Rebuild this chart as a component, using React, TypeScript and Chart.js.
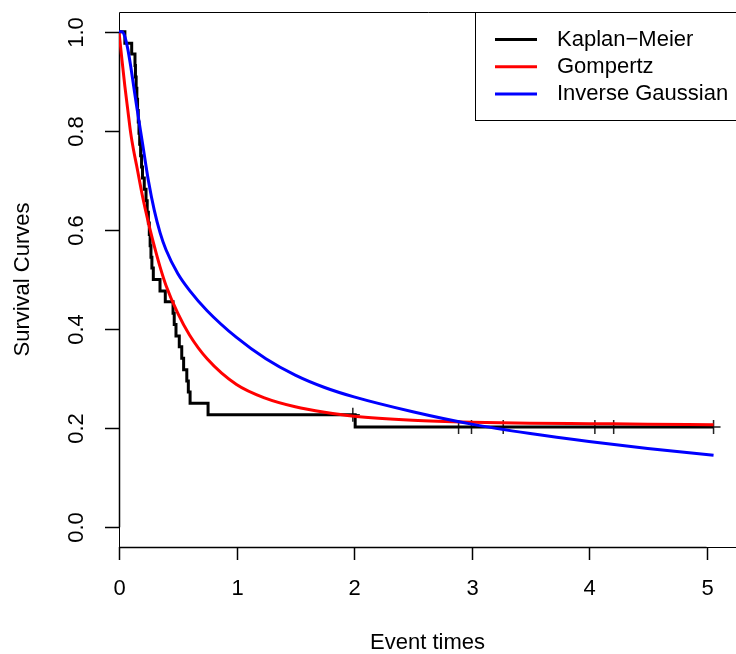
import React, { useEffect, useRef } from "react";
import { Chart, registerables } from "chart.js";

Chart.register(...registerables);

// Kaplan–Meier step data (event times and survival after each event)
const kmTimes = [
  0, 0.05, 0.108, 0.136, 0.14, 0.146, 0.152, 0.158, 0.164, 0.17, 0.176, 0.184,
  0.192, 0.2, 0.215, 0.23, 0.24, 0.25, 0.258, 0.265, 0.272, 0.28, 0.292, 0.349,
  0.394, 0.46, 0.47, 0.485, 0.513, 0.534, 0.55, 0.577, 0.59, 0.605, 0.758, 2.01,
  5.06,
];
const kmSurv = [
  1, 0.977, 0.955, 0.932, 0.909, 0.886, 0.864, 0.841, 0.818, 0.795, 0.773, 0.75,
  0.727, 0.705, 0.682, 0.659, 0.636, 0.614, 0.591, 0.568, 0.545, 0.523, 0.5,
  0.477, 0.455, 0.432, 0.409, 0.386, 0.364, 0.341, 0.318, 0.295, 0.273, 0.25,
  0.227, 0.202, 0.202,
];
// censored observations
const censorTimes = [1.99, 2.89, 3.0, 3.27, 4.05, 4.21, 5.06];
const censorSurv = [0.227, 0.202, 0.202, 0.202, 0.202, 0.202, 0.202];

// fitted parametric curves
const curveTimes = [
  0, 0.025, 0.05, 0.075, 0.1, 0.125, 0.15, 0.2, 0.25, 0.3, 0.35, 0.4, 0.5, 0.6,
  0.75, 1.0, 1.25, 1.5, 1.75, 2.0, 2.5, 3.0, 3.5, 4.0, 4.5, 5.06,
];
const gompertz = [
  1, 0.944, 0.89, 0.842, 0.795, 0.76, 0.73, 0.668, 0.615, 0.568, 0.525, 0.488,
  0.432, 0.388, 0.34, 0.288, 0.26, 0.243, 0.232, 0.224, 0.216, 0.212, 0.21,
  0.209, 0.208, 0.207,
];
const invGaussian = [
  1, 1.0, 0.99, 0.965, 0.93, 0.89, 0.85, 0.775, 0.7, 0.64, 0.594, 0.56, 0.512,
  0.478, 0.437, 0.383, 0.34, 0.307, 0.282, 0.263, 0.233, 0.208, 0.189, 0.173,
  0.159, 0.145,
];

const xTicks = [0, 1, 2, 3, 4, 5];
const xTickLabels = ["0", "1", "2", "3", "4", "5"];
const yTicks = [0, 0.2, 0.4, 0.6, 0.8, 1.0];
const yTickLabels = ["0.0", "0.2", "0.4", "0.6", "0.8", "1.0"];
const legendLabels = ["Kaplan\u2212Meier", "Gompertz", "Inverse Gaussian"];
const legendColors = ["#000000", "#FF0000", "#0000FF"];
const xTitle = "Event times";
const yTitle = "Survival Curves";

const FONT = '22px "Liberation Sans", Arial, sans-serif';

const rAxesPlugin = {
  id: "rAxes",
  beforeDatasetsDraw(chart: any) {
    const { ctx, chartArea } = chart;
    const xs = chart.scales.x;
    const ys = chart.scales.y;
    const { left, top, right, bottom } = chartArea;
    ctx.save();
    ctx.strokeStyle = "#000";
    ctx.lineWidth = 1;
    ctx.beginPath();
    ctx.moveTo(right + 2, top + 0.5);
    ctx.lineTo(left + 0.5, top + 0.5);
    ctx.lineTo(left + 0.5, bottom + 0.5);
    ctx.lineTo(right + 2, bottom + 0.5);
    ctx.stroke();

    // x axis
    ctx.lineWidth = 1.5;
    const x0 = xs.getPixelForValue(xTicks[0]);
    const x1 = xs.getPixelForValue(xTicks[xTicks.length - 1]);
    ctx.beginPath();
    ctx.moveTo(x0, bottom + 0.5);
    ctx.lineTo(x1, bottom + 0.5);
    ctx.stroke();
    ctx.fillStyle = "#000";
    ctx.font = FONT;
    ctx.textAlign = "center";
    ctx.textBaseline = "middle";
    xTicks.forEach((v, i) => {
      const px = Math.round(xs.getPixelForValue(v)) + 0.5;
      ctx.beginPath();
      ctx.moveTo(px, bottom);
      ctx.lineTo(px, bottom + 13);
      ctx.stroke();
      ctx.fillText(xTickLabels[i], px, 589);
    });

    // y axis
    const y0 = ys.getPixelForValue(yTicks[0]);
    const y1 = ys.getPixelForValue(yTicks[yTicks.length - 1]);
    ctx.beginPath();
    ctx.moveTo(left + 0.5, y0);
    ctx.lineTo(left + 0.5, y1);
    ctx.stroke();
    yTicks.forEach((v, i) => {
      const py = Math.round(ys.getPixelForValue(v)) + 0.5;
      ctx.beginPath();
      ctx.moveTo(left, py);
      ctx.lineTo(left - 14, py);
      ctx.stroke();
      ctx.save();
      ctx.translate(77, py);
      ctx.rotate(-Math.PI / 2);
      ctx.fillText(yTickLabels[i], 0, 0);
      ctx.restore();
    });

    // titles
    ctx.fillText(xTitle, (left + right) / 2, 643);
    ctx.save();
    ctx.translate(23, (top + bottom) / 2);
    ctx.rotate(-Math.PI / 2);
    ctx.fillText(yTitle, 0, 0);
    ctx.restore();
    ctx.restore();
  },
  afterDraw(chart: any) {
    const { ctx } = chart;
    ctx.save();
    // legend box
    ctx.fillStyle = "#fff";
    ctx.fillRect(475, 12, 270, 109);
    ctx.strokeStyle = "#000";
    ctx.lineWidth = 1;
    ctx.strokeRect(475.5, 12.5, 270, 108);
    ctx.font = FONT;
    ctx.textAlign = "left";
    ctx.textBaseline = "middle";
    legendLabels.forEach((lab, i) => {
      const y = 39.5 + i * 27.3;
      ctx.strokeStyle = legendColors[i];
      ctx.lineWidth = 3;
      ctx.beginPath();
      ctx.moveTo(495, y);
      ctx.lineTo(537, y);
      ctx.stroke();
      ctx.fillStyle = "#000";
      ctx.fillText(lab, 557, y);
    });
    ctx.restore();
  },
};

export default function App() {
  const ref = useRef<HTMLCanvasElement>(null);
  useEffect(() => {
    document.body.style.margin = "0";
    const canvas = ref.current!;
    const pxPerUnit = 117.5;
    const chart = new Chart(canvas, {
      type: "line",
      data: {
        datasets: [
          {
            label: "Inverse Gaussian",
            data: curveTimes.map((t, i) => ({ x: t, y: invGaussian[i] })),
            borderColor: "#0000FF",
            borderWidth: 3,
            pointRadius: 0,
            fill: false,
            cubicInterpolationMode: "monotone",
            order: 0,
          },
          {
            label: "Gompertz",
            data: curveTimes.map((t, i) => ({ x: t, y: gompertz[i] })),
            borderColor: "#FF0000",
            borderWidth: 3,
            pointRadius: 0,
            fill: false,
            cubicInterpolationMode: "monotone",
            order: 1,
          },
          {
            label: "Kaplan-Meier",
            data: kmTimes.map((t, i) => ({ x: t, y: kmSurv[i] })),
            borderColor: "#000000",
            borderWidth: 3,
            pointRadius: 0,
            fill: false,
            stepped: true,
            order: 2,
          },
          {
            label: "censored",
            data: censorTimes.map((t, i) => ({ x: t, y: censorSurv[i] })),
            showLine: false,
            pointStyle: "cross",
            pointRadius: 7,
            borderColor: "#222",
            borderWidth: 1.5,
            order: 3,
          } as any,
        ],
      },
      options: {
        animation: false,
        responsive: false,
        devicePixelRatio: 1,
        layout: {
          autoPadding: false,
          padding: { left: 119, top: 12, right: 0, bottom: 107 },
        },
        scales: {
          x: { type: "linear", min: 0, max: (736 - 119) / pxPerUnit, display: false },
          y: { type: "linear", min: -0.04, max: 1.04, display: false },
        },
        plugins: { legend: { display: false }, tooltip: { enabled: false } },
      },
      plugins: [rAxesPlugin],
    } as any);
    return () => chart.destroy();
  }, []);
  return (
    <div style={{ width: 736, height: 654, overflow: "hidden", background: "#fff" }}>
      <canvas ref={ref} width={736} height={654} style={{ display: "block" }} />
    </div>
  );
}
